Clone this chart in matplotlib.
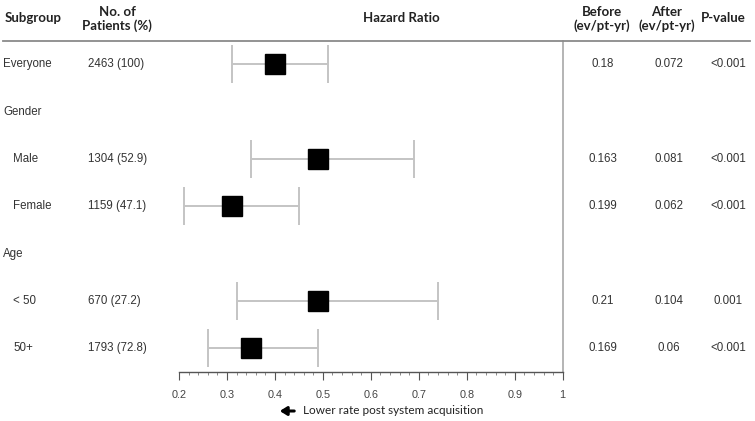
import matplotlib
matplotlib.use("Agg")
import matplotlib.pyplot as plt
import matplotlib.transforms as mtransforms
from matplotlib.ticker import MultipleLocator

# ---------------- data ----------------
labels = ["Everyone", "Gender", "Male", "Female", "Age", "< 50", "50+"]
indent = [False, False, True, True, False, True, True]
patients = ["2463 (100)", "", "1304 (52.9)", "1159 (47.1)", "", "670 (27.2)", "1793 (72.8)"]
hr = [0.40, None, 0.49, 0.31, None, 0.49, 0.35]
ci_low = [0.31, None, 0.35, 0.21, None, 0.32, 0.26]
ci_high = [0.51, None, 0.69, 0.45, None, 0.74, 0.49]
before = ["0.18", "", "0.163", "0.199", "", "0.21", "0.169"]
after = ["0.072", "", "0.081", "0.062", "", "0.104", "0.06"]
pvals = ["<0.001", "", "<0.001", "<0.001", "", "0.001", "<0.001"]
xticks = [0.2, 0.3, 0.4, 0.5, 0.6, 0.7, 0.8, 0.9, 1.0]
xticklabels = ["0.2", "0.3", "0.4", "0.5", "0.6", "0.7", "0.8", "0.9", "1"]

W, H = 755, 421
fig = plt.figure(figsize=(W / 100, H / 100), dpi=100)

def fx(px):
    return px / W

def fy(py):
    return 1 - py / H

ax_left, ax_right = 179, 562.7
ax_top, ax_bottom = 40.7, 372
ax = fig.add_axes([fx(ax_left), fy(ax_bottom), fx(ax_right - ax_left), (ax_bottom - ax_top) / H])
ax.set_xlim(0.2, 1.0)
n = len(labels)
ax.set_ylim(n - 0.5, -0.5)
ax.patch.set_alpha(0)
for s in ["top", "left", "right"]:
    ax.spines[s].set_visible(False)
ax.spines["bottom"].set_color("#555555")
ax.spines["bottom"].set_linewidth(1.0)
ax.set_yticks([])
ax.set_xticks(xticks)
ax.set_xticklabels(xticklabels)
ax.xaxis.set_minor_locator(MultipleLocator(0.02))
ax.tick_params(axis="x", which="major", length=6, color="#555555", labelsize=7.8,
               labelcolor="#444444", pad=7)
ax.tick_params(axis="x", which="minor", length=2.5, color="#777777")
for lab in ax.get_xticklabels():
    lab.set_fontfamily("Liberation Sans")

# right separator line
ax.axvline(1.0, color="#a8a8a8", lw=1.2, clip_on=False)

# forest marks
grey = "#c4c4c4"
for i in range(n):
    if hr[i] is None:
        continue
    ax.hlines(i, ci_low[i], ci_high[i], color=grey, lw=1.4, zorder=2)
    ax.vlines([ci_low[i], ci_high[i]], i - 0.4, i + 0.4, color=grey, lw=1.4, zorder=2)
    ax.plot(hr[i], i, marker="s", ms=14, color="black", mec="black", zorder=3)

# header line
fig.add_artist(plt.Line2D([fx(3), fx(750)], [fy(40.7), fy(40.7)], color="#8a8a8a", lw=1.3))

# text columns (x in figure px, y in data rows)
trans = mtransforms.blended_transform_factory(fig.transFigure, ax.transData)
body = dict(fontsize=8.3, color="#333333", family="Liberation Sans", va="center", transform=trans)
for i in range(n):
    ax.text(fx(13 if indent[i] else 3), i, labels[i], ha="left", **body)
    if patients[i]:
        ax.text(fx(88), i, patients[i], ha="left", **body)
    if before[i]:
        ax.text(fx(603), i, before[i], ha="center", **body)
        ax.text(fx(669), i, after[i], ha="center", **body)
        ax.text(fx(728), i, pvals[i], ha="center", **body)

# headers
hdr = dict(fontsize=9.5, fontweight="bold", color="#222222", family="Lato",
           ha="center", va="center", linespacing=1.15)
fig.text(fx(33), fy(18), "Subgroup", **hdr)
fig.text(fx(117), fy(19), "No. of\nPatients (%)", **hdr)
fig.text(fx(401), fy(18), "Hazard Ratio", **hdr)
fig.text(fx(602), fy(19), "Before\n(ev/pt-yr)", **hdr)
fig.text(fx(667), fy(19), "After\n(ev/pt-yr)", **hdr)
fig.text(fx(723), fy(18), "P-value", **hdr)

# direction note
fig.add_artist(matplotlib.patches.FancyArrowPatch(
    (fx(297), fy(411)), (fx(277), fy(411)), transform=fig.transFigure,
    arrowstyle="-|>,head_length=4,head_width=2.5", lw=2.2, color="black", mutation_scale=1))
fig.text(fx(303), fy(411), "Lower rate post system acquisition", fontsize=8.5,
         family="Lato", color="#222222", ha="left", va="center")

fig.savefig("out.png", dpi=100, facecolor="white")
